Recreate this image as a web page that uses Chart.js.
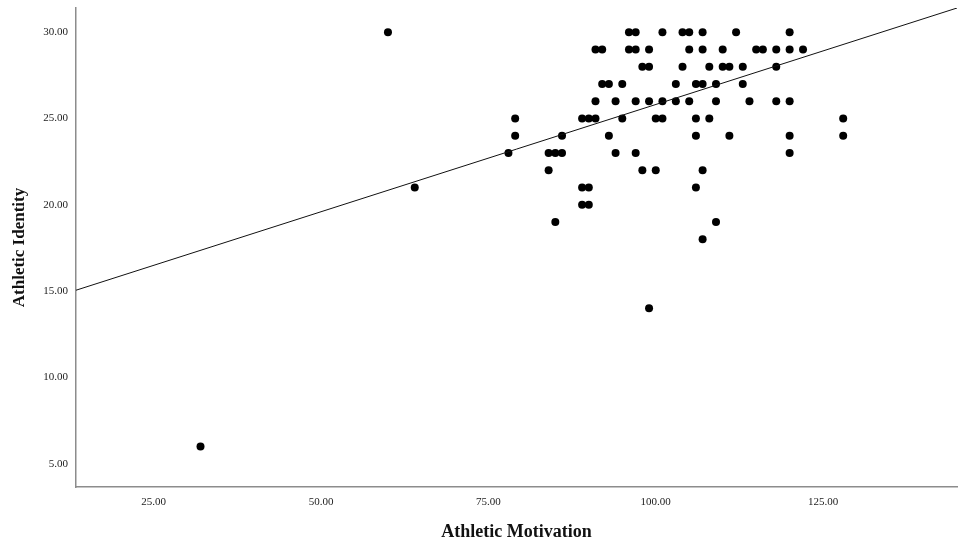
<!DOCTYPE html>
<html>
<head>
<meta charset="utf-8">
<script src="https://cdn.jsdelivr.net/npm/chart.js@4.4.1/dist/chart.umd.min.js"></script>
<style>
  html, body { margin: 0; padding: 0; background: #fff; }
  #wrap { width: 961px; height: 543px; }
</style>
</head>
<body>
<div id="wrap"><canvas id="scatter"></canvas></div>
<script>
// Athletic Motivation (x) by Athletic Identity (y), grouped by identity score
const identityRows = [30, 29, 28, 27, 26, 25, 24, 23, 22, 21, 20, 19, 18, 14, 6];
const motivationByRow = [
    [60, 96, 97, 101, 104, 105, 107, 112, 120],
    [91, 92, 96, 97, 99, 105, 107, 110, 115, 116, 118, 120, 122],
    [98, 99, 104, 108, 110, 111, 113, 118],
    [92, 93, 95, 103, 106, 107, 109, 113],
    [91, 94, 97, 99, 101, 103, 105, 109, 114, 118, 120],
    [79, 89, 90, 91, 95, 100, 101, 106, 108, 128],
    [79, 86, 93, 106, 111, 120, 128],
    [78, 84, 85, 86, 94, 97, 120],
    [84, 98, 100, 107],
    [64, 89, 90, 106],
    [89, 90],
    [85, 109],
    [107],
    [99],
    [32]
];
const xTicks = [25, 50, 75, 100, 125];
const yTicks = [5, 10, 15, 20, 25, 30];
const xRange = [13.4, 145];
const yRange = [3.65, 31.4];
// fit line, at both ends of the x range
const fitY = [15.05, 31.4];

const points = [];
identityRows.forEach((y, i) => {
    motivationByRow[i].forEach(x => points.push({ x: x, y: y }));
});
const fitLine = xRange.map((x, i) => ({ x: x, y: fitY[i] }));

const serif = "'Liberation Serif', 'DejaVu Serif', serif";

const ctx = document.getElementById('scatter');
new Chart(ctx, {
    type: 'scatter',
    data: {
        datasets: [{
            label: 'Points',
            data: points,
            backgroundColor: '#000',
            borderWidth: 0,
            pointRadius: 4,
            order: 2
        }, {
            type: 'line',
            label: 'Fit',
            data: fitLine,
            borderColor: '#111',
            borderWidth: 1,
            pointRadius: 0,
            fill: false,
            order: 1
        }]
    },
    options: {
        responsive: true,
        maintainAspectRatio: false,
        animation: false,
        layout: { padding: { left: 0, right: 3, top: 8, bottom: 0 } },
        plugins: {
            legend: { display: false },
            tooltip: { enabled: false }
        },
        scales: {
            x: {
                type: 'linear',
                min: xRange[0],
                max: xRange[1],
                afterBuildTicks: s => { s.ticks = xTicks.map(v => ({ value: v })); },
                afterFit: s => { s.height = 56; s.paddingLeft = 0; s.paddingRight = 0; },
                grid: { display: false, drawTicks: false },
                border: { display: true, color: '#8c8c8c', width: 1.5 },
                ticks: {
                    color: '#222',
                    padding: 9,
                    maxRotation: 0,
                    font: { family: serif, size: 11 },
                    callback: v => v.toFixed(2)
                },
                title: {
                    display: true,
                    text: 'Athletic Motivation',
                    color: '#111',
                    padding: { top: 10, bottom: 0 },
                    font: { family: serif, size: 18, weight: 'bold' }
                }
            },
            y: {
                type: 'linear',
                min: yRange[0],
                max: yRange[1],
                afterBuildTicks: s => { s.ticks = yTicks.map(v => ({ value: v })); },
                afterFit: s => { s.width = 76; s.paddingTop = 0; s.paddingBottom = 0; },
                grid: { display: false, drawTicks: false },
                border: { display: true, color: '#8c8c8c', width: 1.5 },
                ticks: {
                    color: '#222',
                    padding: 8,
                    font: { family: serif, size: 11 },
                    callback: v => v.toFixed(2)
                },
                title: {
                    display: true,
                    text: 'Athletic Identity',
                    color: '#111',
                    padding: { top: 9, bottom: 0 },
                    font: { family: serif, size: 17, weight: 'bold' }
                }
            }
        }
    }
});
</script>
</body>
</html>
